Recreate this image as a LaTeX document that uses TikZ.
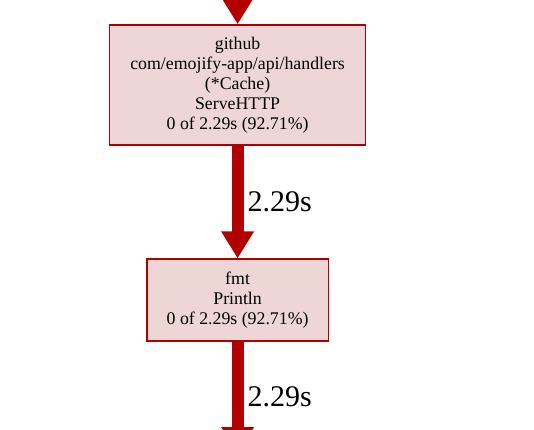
\documentclass[tikz,border=0pt]{standalone}
\usepackage{fontspec}
\setmainfont{Liberation Serif}
\usetikzlibrary{arrows.meta}
\definecolor{boxfill}{HTML}{EDD6D5}
\definecolor{hotred}{HTML}{B20000}
\begin{document}
\begin{tikzpicture}[x=1pt,y=1pt,
		fn/.style = {draw = hotred, line width = 1.5pt, fill = boxfill, align = center, inner sep = 0pt, font = \fontsize{17.8}{20}\selectfont},
		hot/.style = {draw = hotred, line width = 12pt, -{Triangle[length = 27pt, width = 31pt]}},
		wt/.style = {anchor = west, font = \fontsize{30}{30}\selectfont}]
		\useasboundingbox (0,0) rectangle (534,429);
		\coordinate (in) at (237.6, 470);
		\coordinate (out) at (237.6, -25);
		\node [fn, minimum width = 256pt, minimum height = 120pt](serve) at (237.6, 344) {github\\com/emojify-app/api/handlers\\(*Cache)\\ServeHTTP\\0 of 2.29s (92.71\%)};
		\node [fn, minimum width = 181.6pt, minimum height = 81.7pt](println) at (237.6, 129) {fmt\\Println\\0 of 2.29s (92.71\%)};
		\draw [hot] (in) -- (serve.north);
		\draw [hot] (serve.south) -- (println.north);
		\draw [hot] (println.south) -- (out);
		\node [wt](w_serve) at (244, 227) {2.29s};
		\node [wt](w_println) at (244, 32) {2.29s};
		\end{tikzpicture}
\end{document}
